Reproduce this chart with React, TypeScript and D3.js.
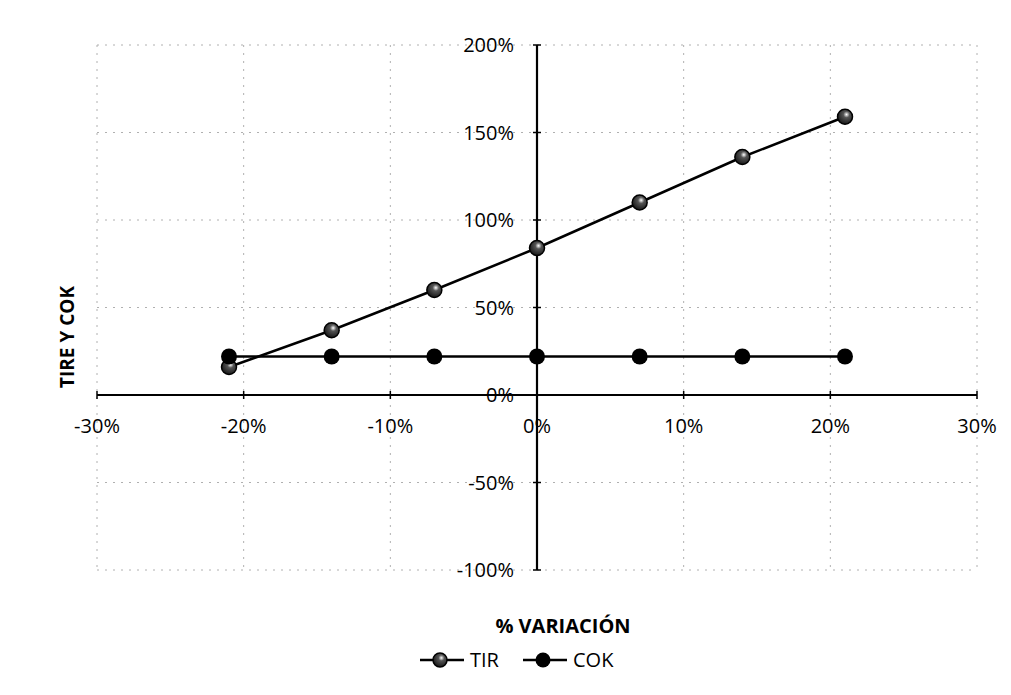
import React, { useEffect, useRef } from 'react';
import * as d3 from 'd3';

// variation steps (x) and series values
const variacion = [-0.21, -0.14, -0.07, 0, 0.07, 0.14, 0.21];
const tir = [0.16, 0.37, 0.6, 0.84, 1.1, 1.36, 1.59];
const cok = [0.22, 0.22, 0.22, 0.22, 0.22, 0.22, 0.22];

const xTicks = [-0.3, -0.2, -0.1, 0, 0.1, 0.2, 0.3];
const yTicks = [-1, -0.5, 0, 0.5, 1, 1.5, 2];

const WIDTH = 1011;
const HEIGHT = 695;
const FONT = '"Open Sans", sans-serif';

const App: React.FC = () => {
  const svgRef = useRef<SVGSVGElement>(null);

  useEffect(() => {
    if (!svgRef.current) return;
    const svg = d3.select(svgRef.current);
    svg.selectAll('*').remove();

    const x = d3.scaleLinear().domain([-0.3, 0.3]).range([97, 977]);
    const y = d3.scaleLinear().domain([-1, 2]).range([570, 45]);
    // Excel style labels use a plain hyphen for negatives
    const pct = (v: number) => d3.format('.0%')(v).replace('\u2212', '-');

    // marker gradient for TIR
    const defs = svg.append('defs');
    const grad = defs.append('radialGradient').attr('id', 'tirGrad')
      .attr('cx', '60%').attr('cy', '35%').attr('r', '70%');
    grad.append('stop').attr('offset', '0%').attr('stop-color', '#ffffff');
    grad.append('stop').attr('offset', '30%').attr('stop-color', '#555');
    grad.append('stop').attr('offset', '100%').attr('stop-color', '#111');

    // gridlines
    const grid = svg.append('g');
    grid.selectAll('.vg')
      .data(xTicks.filter(t => t !== 0))
      .enter()
      .append('line')
      .attr('x1', d => x(d)).attr('x2', d => x(d))
      .attr('y1', y(2)).attr('y2', y(-1))
      .attr('stroke', '#b0b0b0')
      .attr('stroke-width', 1)
      .attr('stroke-dasharray', '2,6');
    grid.selectAll('.hg')
      .data(yTicks.filter(t => t !== 0))
      .enter()
      .append('line')
      .attr('x1', x(-0.3)).attr('x2', x(0.3))
      .attr('y1', d => y(d)).attr('y2', d => y(d))
      .attr('stroke', '#b0b0b0')
      .attr('stroke-width', 1)
      .attr('stroke-dasharray', '2,6');

    // axes crossing at zero
    svg.append('line')
      .attr('x1', x(-0.3)).attr('x2', x(0.3))
      .attr('y1', y(0)).attr('y2', y(0))
      .attr('stroke', '#000').attr('stroke-width', 2.2);
    svg.append('line')
      .attr('x1', x(0)).attr('x2', x(0))
      .attr('y1', y(2)).attr('y2', y(-1))
      .attr('stroke', '#000').attr('stroke-width', 2.2);

    // tick marks
    svg.selectAll('.xt')
      .data(xTicks)
      .enter()
      .append('line')
      .attr('x1', d => x(d)).attr('x2', d => x(d))
      .attr('y1', y(0) - 4).attr('y2', y(0) + 4)
      .attr('stroke', '#000').attr('stroke-width', 1.5);
    svg.selectAll('.yt')
      .data(yTicks)
      .enter()
      .append('line')
      .attr('x1', x(0) - 4).attr('x2', x(0) + 4)
      .attr('y1', d => y(d)).attr('y2', d => y(d))
      .attr('stroke', '#000').attr('stroke-width', 1.5);

    // tick labels
    svg.selectAll('.xl')
      .data(xTicks)
      .enter()
      .append('text')
      .attr('x', d => x(d))
      .attr('y', 433)
      .attr('text-anchor', 'middle')
      .style('font-family', FONT)
      .style('font-size', '20px')
      .style('fill', '#000')
      .text(d => pct(d));
    svg.selectAll('.yl')
      .data(yTicks)
      .enter()
      .append('text')
      .attr('x', 514)
      .attr('y', d => y(d))
      .attr('dy', '0.35em')
      .attr('text-anchor', 'end')
      .style('font-family', FONT)
      .style('font-size', '20px')
      .style('fill', '#000')
      .text(d => pct(d));

    // series lines
    const line = d3.line<[number, number]>()
      .x(d => x(d[0]))
      .y(d => y(d[1]));
    const tirPts: [number, number][] = variacion.map((v, i) => [v, tir[i]]);
    const cokPts: [number, number][] = variacion.map((v, i) => [v, cok[i]]);

    svg.append('path').attr('d', line(tirPts) || '')
      .attr('fill', 'none').attr('stroke', '#000').attr('stroke-width', 2.5);
    svg.append('path').attr('d', line(cokPts) || '')
      .attr('fill', 'none').attr('stroke', '#000').attr('stroke-width', 2.5);

    // markers
    svg.selectAll('.tm')
      .data(tirPts)
      .enter()
      .append('circle')
      .attr('cx', d => x(d[0]))
      .attr('cy', d => y(d[1]))
      .attr('r', 7.5)
      .attr('fill', 'url(#tirGrad)')
      .attr('stroke', '#000')
      .attr('stroke-width', 1.5);
    svg.selectAll('.cm')
      .data(cokPts)
      .enter()
      .append('circle')
      .attr('cx', d => x(d[0]))
      .attr('cy', d => y(d[1]))
      .attr('r', 8)
      .attr('fill', '#000');

    // axis titles
    svg.append('text')
      .attr('transform', 'translate(74,337) rotate(-90)')
      .attr('text-anchor', 'middle')
      .style('font-family', FONT)
      .style('font-size', '19px')
      .style('font-weight', 'bold')
      .style('fill', '#000')
      .text('TIRE Y COK');
    svg.append('text')
      .attr('x', 563)
      .attr('y', 633)
      .attr('text-anchor', 'middle')
      .style('font-family', FONT)
      .style('font-size', '20px')
      .style('font-weight', 'bold')
      .style('fill', '#000')
      .text('% VARIACIÓN');

    // legend
    const legend = [
      { label: 'TIR', x0: 420, hollow: true },
      { label: 'COK', x0: 523, hollow: false }
    ];
    const lg = svg.selectAll('.lg')
      .data(legend)
      .enter()
      .append('g')
      .attr('transform', d => `translate(${d.x0},660)`);
    lg.append('line')
      .attr('x1', 0).attr('x2', 44)
      .attr('y1', 0).attr('y2', 0)
      .attr('stroke', '#000').attr('stroke-width', 2.5);
    lg.append('circle')
      .attr('cx', 20).attr('cy', 0)
      .attr('r', d => (d.hollow ? 7 : 7.5))
      .attr('fill', d => (d.hollow ? 'url(#tirGrad)' : '#000'))
      .attr('stroke', '#000')
      .attr('stroke-width', d => (d.hollow ? 1.5 : 0));
    lg.append('text')
      .attr('x', 50)
      .attr('y', 0)
      .attr('dy', '0.35em')
      .style('font-family', FONT)
      .style('font-size', '20px')
      .style('fill', '#000')
      .text(d => d.label);
  }, []);

  return (
    <svg
      ref={svgRef}
      width={WIDTH}
      height={HEIGHT}
      style={{ position: 'absolute', left: 0, top: 0, background: '#fff' }}
    />
  );
};

export default App;
